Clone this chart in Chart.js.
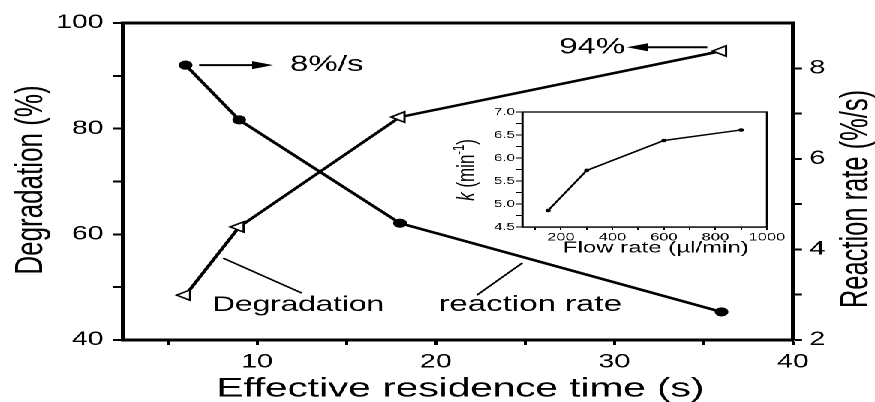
<!DOCTYPE html>
<html lang="en">
<head>
<meta charset="UTF-8">
<title>Degradation and reaction rate vs residence time</title>
<script src="https://cdn.jsdelivr.net/npm/chart.js@4.4.1/dist/chart.umd.min.js"></script>
<style>
  body { margin: 0; background: #fff; overflow: hidden; }
  /* the original figure is stretched sideways, so the whole chart is drawn narrow and scaled */
  #wrap { position: absolute; left: 0; top: 0; width: 583px; height: 402px; transform: scaleX(1.50086); transform-origin: 0 0; }
  #main { position: absolute; left: 0; top: 0; }
  #inset { position: absolute; left: 295px; top: 105px; }
</style>
</head>
<body>
<div id="wrap">
  <canvas id="main" width="583" height="402"></canvas>
  <canvas id="inset" width="235" height="157"></canvas>
</div>
<script>
// main plot data
const time = [6, 9, 18, 36];
const degradation = [48.5, 61.4, 82.2, 94.7];
const rate = [8.07, 6.86, 4.58, 2.62];
const xTicks = [5, 10, 15, 20, 25, 30, 35, 40];
const leftTicks = [40, 50, 60, 70, 80, 90, 100];
const rightTicks = [2, 3, 4, 5, 6, 7, 8];

// inset data
const flow = [150, 300, 600, 900];
const kValues = [4.86, 5.73, 6.38, 6.61];
const flowTicks = [100, 200, 300, 400, 500, 600, 700, 800, 900, 1000];
const kTicks = [4.5, 4.75, 5, 5.25, 5.5, 5.75, 6, 6.25, 6.5, 6.75, 7];

const black = '#000';
const F = '"Liberation Sans", Arial, sans-serif';
Chart.defaults.font.family = F;
Chart.defaults.color = black;

function arrowH(ctx, x1, x2, y) {
    const dir = Math.sign(x2 - x1);
    const len = 14, half = 4;
    ctx.lineWidth = 2;
    ctx.beginPath();
    ctx.moveTo(x1, y);
    ctx.lineTo(x2 - dir * len * 0.8, y);
    ctx.stroke();
    ctx.beginPath();
    ctx.moveTo(x2, y);
    ctx.lineTo(x2 - dir * len, y - half);
    ctx.lineTo(x2 - dir * len, y + half);
    ctx.closePath();
    ctx.fill();
}

const mainDeco = {
    id: 'mainDeco',
    afterDraw(chart) {
        const { ctx, chartArea: a } = chart;
        const x = chart.scales.x, y = chart.scales.y, y1 = chart.scales.y1;
        ctx.save();
        ctx.strokeStyle = black;
        ctx.fillStyle = black;

        // top frame
        ctx.lineWidth = 3;
        ctx.beginPath();
        ctx.moveTo(a.left - 1, a.top);
        ctx.lineTo(a.right + 1, a.top);
        ctx.stroke();

        // 8%/s arrow
        const yR = y1.getPixelForValue(rate[0]);
        arrowH(ctx, x.getPixelForValue(time[0]) + 9, x.getPixelForValue(10.9), yR);
        ctx.font = `22px ${F}`;
        ctx.textBaseline = 'middle';
        ctx.textAlign = 'left';
        ctx.fillText('8%/s', x.getPixelForValue(11.85), yR);

        // 94% arrow
        const yD = y.getPixelForValue(95.4);
        arrowH(ctx, x.getPixelForValue(35.2), x.getPixelForValue(30.7), yD);
        ctx.textAlign = 'right';
        ctx.fillText('94%', x.getPixelForValue(30.6), yD);

        // curve labels with leader lines
        ctx.textAlign = 'left';
        ctx.font = `21px ${F}`;
        ctx.fillText('Degradation', x.getPixelForValue(7.5), y.getPixelForValue(46.6));
        ctx.font = `22px ${F}`;
        ctx.fillText('reaction rate', x.getPixelForValue(20.15), y.getPixelForValue(46.6));
        ctx.lineWidth = 1.5;
        ctx.beginPath();
        ctx.moveTo(x.getPixelForValue(8.1), y.getPixelForValue(55.5));
        ctx.lineTo(x.getPixelForValue(12.5), y.getPixelForValue(48.9));
        ctx.moveTo(x.getPixelForValue(24.85), y.getPixelForValue(54.6));
        ctx.lineTo(x.getPixelForValue(22.3), y.getPixelForValue(48.5));
        ctx.stroke();

        // axis titles
        ctx.textAlign = 'center';
        ctx.font = `27px ${F}`;
        ctx.fillText('Effective residence time (s)', 306.7, 389);

        ctx.save();
        ctx.translate(20.7, 180);
        ctx.rotate(-Math.PI / 2);
        ctx.font = `26px ${F}`;
        ctx.fillText('Degradation (%)', 0, 0);
        ctx.restore();

        ctx.save();
        ctx.translate(571, 199);
        ctx.rotate(-Math.PI / 2);
        ctx.font = `25.5px ${F}`;
        ctx.fillText('Reaction rate (%/s)', 0, 0);
        ctx.restore();

        ctx.restore();
    }
};

new Chart(document.getElementById('main'), {
    type: 'line',
    data: {
        datasets: [
            {
                label: 'Degradation',
                data: time.map((t, i) => ({ x: t, y: degradation[i] })),
                yAxisID: 'y',
                borderColor: black,
                borderWidth: 2.5,
                pointStyle: 'triangle',
                pointRotation: -90,
                pointRadius: 6,
                pointBackgroundColor: '#fff',
                pointBorderColor: black,
                pointBorderWidth: 1.5
            },
            {
                label: 'reaction rate',
                data: time.map((t, i) => ({ x: t, y: rate[i] })),
                yAxisID: 'y1',
                borderColor: black,
                borderWidth: 2.5,
                pointStyle: 'circle',
                pointRadius: 4.6,
                pointBorderWidth: 0,
                pointBackgroundColor: black,
                pointBorderColor: black
            }
        ]
    },
    options: {
        responsive: false,
        devicePixelRatio: 2,
        animation: false,
        layout: { padding: { top: 23, left: 0, right: 0, bottom: 0 } },
        plugins: { legend: { display: false }, tooltip: { enabled: false } },
        scales: {
            x: {
                type: 'linear', position: 'bottom', min: 2.5, max: 40,
                afterBuildTicks: s => { s.ticks = xTicks.map(v => ({ value: v })); },
                ticks: { callback: v => v % 10 === 0 ? v : '', font: { size: 19 }, color: black, padding: 6, maxRotation: 0, autoSkip: false },
                grid: { drawOnChartArea: false, tickLength: 5, tickColor: black, tickWidth: 2 },
                border: { color: black, width: 3 },
                afterFit: s => { s.height = 62; }
            },
            y: {
                type: 'linear', position: 'left', min: 40, max: 100,
                afterBuildTicks: s => { s.ticks = leftTicks.map(v => ({ value: v })); },
                ticks: { callback: v => v % 20 === 0 ? v : '', font: { size: 19 }, color: black, padding: 6, autoSkip: false },
                grid: { drawOnChartArea: false, tickLength: 7, tickColor: black, tickWidth: 2 },
                border: { color: black, width: 2.7 },
                afterFit: s => { s.width = 82; }
            },
            y1: {
                type: 'linear', position: 'right', min: 2, max: 9,
                afterBuildTicks: s => { s.ticks = rightTicks.map(v => ({ value: v })); },
                ticks: { callback: v => v % 2 === 0 ? v : '', font: { size: 19 }, color: black, padding: 5, autoSkip: false },
                grid: { drawOnChartArea: false, tickLength: 6, tickColor: black, tickWidth: 2 },
                border: { color: black, width: 2.7 },
                afterFit: s => { s.width = 54.6; }
            }
        }
    },
    plugins: [mainDeco]
});

const insetDeco = {
    id: 'insetDeco',
    afterDraw(chart) {
        const { ctx, chartArea: a } = chart;
        ctx.save();
        ctx.strokeStyle = black;
        ctx.fillStyle = black;
        ctx.lineWidth = 1.3;
        ctx.strokeRect(a.left, a.top, a.right - a.left, a.bottom - a.top);

        ctx.font = `16px ${F}`;
        ctx.textAlign = 'center';
        ctx.textBaseline = 'middle';
        ctx.fillText('Flow rate (\u00b5l/min)', 142, 143);

        // k (min-1) rotated, k in italics and -1 raised
        ctx.translate(15, 65);
        ctx.rotate(-Math.PI / 2);
        ctx.textAlign = 'left';
        ctx.textBaseline = 'alphabetic';
        const parts = [
            { t: 'k', f: `italic 17px ${F}`, dy: 0 },
            { t: ' (min', f: `17px ${F}`, dy: 0 },
            { t: '-1', f: `11px ${F}`, dy: -7 },
            { t: ')', f: `17px ${F}`, dy: 0 }
        ];
        let total = 0;
        parts.forEach(p => { ctx.font = p.f; p.w = ctx.measureText(p.t).width; total += p.w; });
        let px = -total / 2;
        parts.forEach(p => { ctx.font = p.f; ctx.fillText(p.t, px, 6 + p.dy); px += p.w; });
        ctx.restore();
    }
};

new Chart(document.getElementById('inset'), {
    type: 'line',
    data: {
        datasets: [{
            data: flow.map((f, i) => ({ x: f, y: kValues[i] })),
            borderColor: black,
            borderWidth: 1.5,
            pointRadius: 1,
            pointBackgroundColor: black,
            pointBorderColor: black
        }]
    },
    options: {
        responsive: false,
        devicePixelRatio: 2,
        animation: false,
        layout: { padding: { top: 7, right: 19, left: 0, bottom: 0 } },
        plugins: { legend: { display: false }, tooltip: { enabled: false } },
        scales: {
            x: {
                type: 'linear', min: 50, max: 1000,
                afterBuildTicks: s => { s.ticks = flowTicks.map(v => ({ value: v })); },
                ticks: { callback: v => v % 200 === 0 ? v : '', font: { size: 11 }, color: black, padding: 1, maxRotation: 0, autoSkip: false },
                grid: { drawOnChartArea: false, tickLength: 3, tickColor: black, tickWidth: 1 },
                border: { color: black, width: 1.3 },
                afterFit: s => { s.height = 35; }
            },
            y: {
                type: 'linear', min: 4.5, max: 7,
                afterBuildTicks: s => { s.ticks = kTicks.map(v => ({ value: v })); },
                ticks: { callback: v => Math.abs(v * 2 - Math.round(v * 2)) < 1e-6 ? v.toFixed(1) : '', font: { size: 10 }, color: black, padding: 1, autoSkip: false },
                grid: { drawOnChartArea: false, tickLength: 4, tickColor: black, tickWidth: 1 },
                border: { color: black, width: 1.3 },
                afterFit: s => { s.width = 53; }
            }
        }
    },
    plugins: [insetDeco]
});
</script>
</body>
</html>
